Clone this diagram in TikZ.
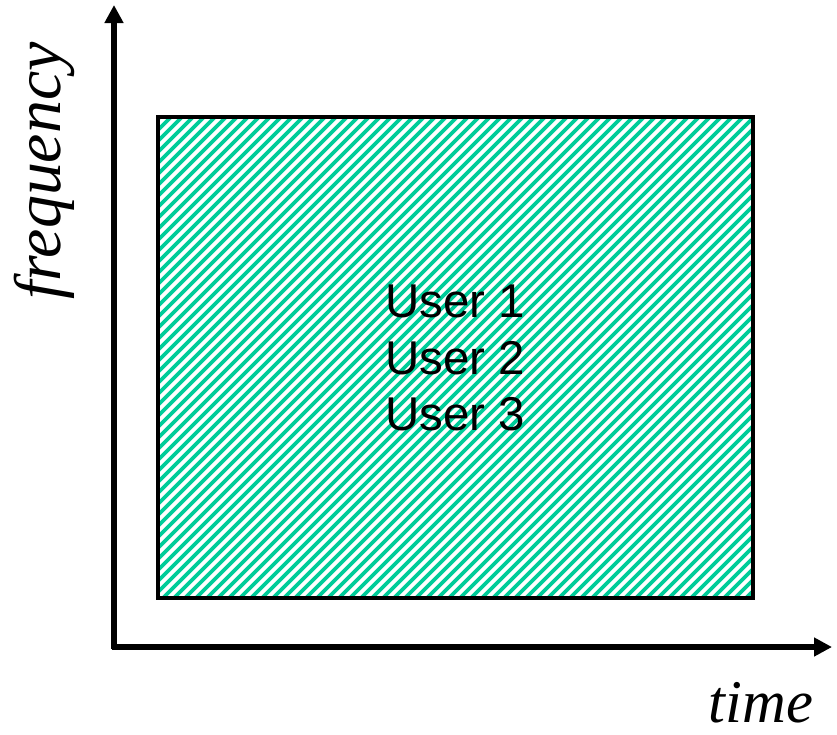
\documentclass[tikz,border=0pt]{standalone}
\usepackage{fontspec}
\setmainfont{Liberation Serif}
\setsansfont{Liberation Sans}
\usetikzlibrary{arrows.meta}

\definecolor{hatchgreen}{RGB}{0,204,153}

\begin{document}
\begin{tikzpicture}[x=0.02cm,y=-0.02cm,
		axis/.style={line width=3.2pt, -{Triangle[length=18*0.02cm,width=18*0.02cm]}},
		hatch/.style={hatchgreen, line width=2.1pt},
		user/.style={font=\sffamily\fontsize{27}{32}\selectfont, align=center}]
		\useasboundingbox (0,0) rectangle (837,734);

		% the shared time/frequency block
		\begin{scope}
			\clip (158,117) rectangle (753,598);
			\foreach \i in {-490,-479,...,600}
				\draw [hatch] (158+\i,598) -- ++(500,-500);
		\end{scope}
		\draw [line width=2pt] (158,117) rectangle (753,598);

		% axes
		\coordinate (o) at (114,647);
		\coordinate (ytop) at (114,5);
		\coordinate (xend) at (832,647);
		\draw [axis] (o |- 0,649) -- (ytop);
		\draw [axis] (112,647) -- (xend);

		\node [rotate=90] (freq) at (44,171) {\fontsize{37.5}{40}\selectfont\itshape frequency};
		\node [inner sep=1pt] (time) at (761,703) {\fontsize{34.5}{40}\selectfont\itshape time};

		\node [user] (users) at (455,358) {User 1\\User 2\\User 3};
	\end{tikzpicture}
\end{document}
